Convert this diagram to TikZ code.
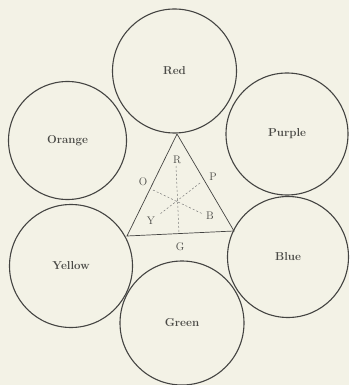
\documentclass[tikz,border=0pt]{standalone}
\usepackage{xcolor}
\definecolor{paper}{HTML}{F3F2E6}
\definecolor{ink}{HTML}{444442}
\definecolor{txt}{HTML}{4A4A46}
\begin{document}
\begin{tikzpicture}[x=1pt,y=-1pt,
  circ/.style={circle,draw=ink,line width=1.1pt,inner sep=0pt,text=txt,font=\fontsize{11.5}{12}\selectfont\bfseries},
  tri/.style={draw=ink,line width=0.7pt,line join=miter},
  med/.style={draw=ink!70,line width=0.5pt,dash pattern=on 2pt off 2pt},
  lab/.style={text=txt,font=\fontsize{11}{12}\selectfont,inner sep=0pt}]
\fill[paper] (0,0) rectangle (349,385);
\useasboundingbox (0,0) rectangle (349,385);
\node[circ,minimum size=124pt] (red) at (174.5,71) {Red};
\node[circ,minimum size=118pt] (orange) at (67.5,140.5) {Orange};
\node[circ,minimum size=123pt] (yellow) at (71,266) {Yellow};
\node[circ,minimum size=122pt] (purple) at (287,134) {Purple};
\node[circ,minimum size=121pt] (blue) at (288,257) {Blue};
\node[circ,minimum size=124pt] (green) at (182,323) {Green};
\coordinate (t) at (177,134);
\coordinate (bl) at (127,236);
\coordinate (br) at (234,231);
\draw[tri] (t) -- (bl) -- (br) -- cycle;
\coordinate (m1a) at (176,166);
\coordinate (m1b) at (179,233);
\coordinate (m2a) at (153,190);
\coordinate (m2b) at (203,214);
\coordinate (m3a) at (200,183);
\coordinate (m3b) at (160,214);
\draw[med] (m1a) -- (m1b);
\draw[med] (m2a) -- (m2b);
\draw[med] (m3a) -- (m3b);
\node[lab] (lr) at (177,160) {R};
\node[lab] (lp) at (213,177) {P};
\node[lab] (lo) at (143,182) {O};
\node[lab] (ly) at (151,221) {Y};
\node[lab] (lb) at (210,216) {B};
\node[lab] (lg) at (180,247) {G};
\end{tikzpicture}
\end{document}
